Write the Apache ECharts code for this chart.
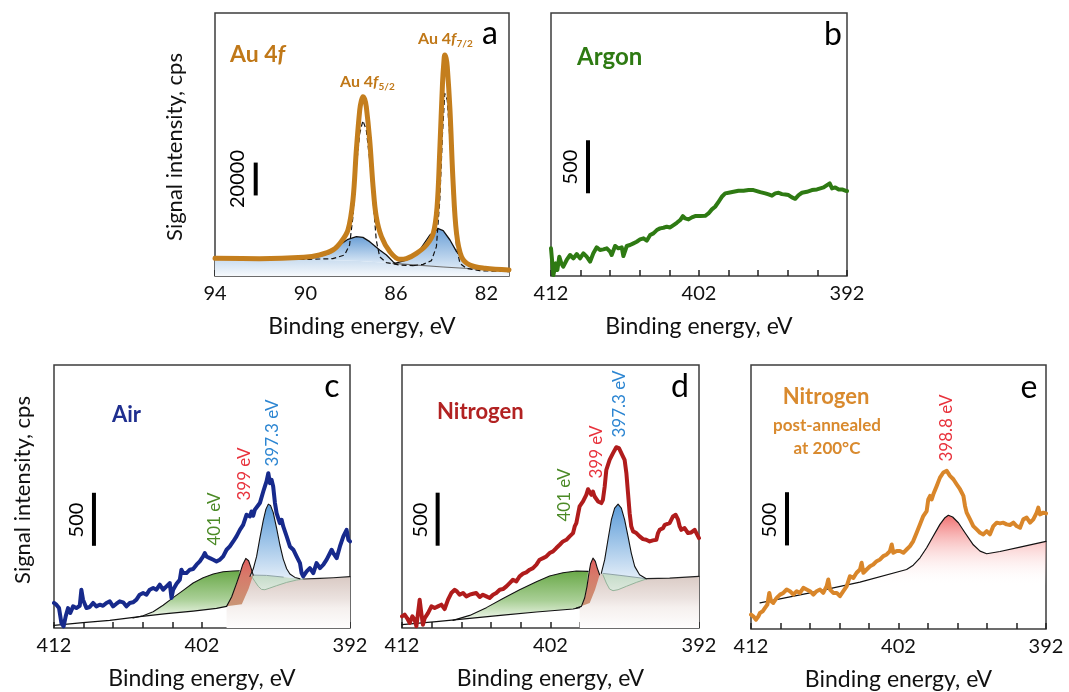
<!DOCTYPE html>
<html>
<head>
<meta charset="utf-8">
<script src="https://cdn.jsdelivr.net/npm/echarts@6/dist/echarts.min.js"></script>
<style>
html,body{margin:0;padding:0;background:#fff}
#chart{width:1069px;height:692px}
</style>
</head>
<body>
<div id="chart"></div>
<script>
const FONT = 'Lato, "Open Sans", "DejaVu Sans", sans-serif';

// ---------- shared N 1s energy axis ----------
const n1sRange = [392, 412];
const n1sTicks = [392, 394, 396, 398, 400, 402, 404, 406, 408, 410, 412];
const n1sTickLabels = [392, 402, 412];
const n1sCpsMax = 2480;
const n1sScaleStep = 500;

// ---------- (a) Au 4f ----------
const au4fRange = [81, 94];
const au4fTicks = [82, 84, 86, 88, 90, 92, 94];
const au4fTickLabels = [82, 86, 90, 94];
const au4fCpsMax = 160000;
const au4fScaleStep = 20000;
const au4fScaleAt = [92.2, 49000];

const au4fEnvelope = [
  [94.00,10750],[92.04,10550],[90.07,11360],[89.38,12780],[88.79,15820],[88.42,20890],[88.12,27990],
  [87.90,46240],[87.75,76660],[87.60,101000],[87.53,106500],[87.46,109100],[87.38,107500],[87.31,103000],
  [87.16,82740],[87.01,54350],[86.87,36100],[86.64,23930],[86.27,14800],[85.83,10140],[85.54,10550],
  [85.09,13790],[84.65,18860],[84.35,25960],[84.18,42180],[84.06,76660],[83.94,117200],[83.88,130000],
  [83.84,134460],[83.78,132500],[83.73,127360],[83.61,101000],[83.47,56380],[83.32,25960],[83.10,11760],
  [82.73,6690],[82.06,4660],[81.00,3650]
];
const au4fFit52 = [
  [92.04,10140],[89.82,10140],[88.79,10550],[88.27,12780],[88.05,18860],[87.90,36100],[87.75,66520],
  [87.60,86800],[87.46,94500],[87.31,88830],[87.16,70570],[87.01,46240],[86.87,21900],[86.72,11760],
  [86.42,8110],[85.83,6690],[85.24,6290]
];
const au4fFit72 = [
  [85.24,6290],[84.80,7100],[84.43,9330],[84.21,17850],[84.06,46240],[83.94,86800],[83.84,111100],
  [83.73,107100],[83.61,82740],[83.47,42180],[83.32,17850],[83.17,7710],[82.88,4660],[82.29,3240],[81.00,2640]
];
const au4fBroad52 = [
  [90.26,10140],[89.52,11360],[88.93,13790],[88.49,18860],[88.12,22310],[87.75,23930],[87.46,23520],
  [87.16,20890],[86.72,15820],[86.42,12780],[86.13,8720],[86.05,7710]
];
const au4fBroad52Base = [[86.05,7600],[87.60,9130],[90.26,10140]];
const au4fBroad72 = [
  [86.05,7710],[85.54,9730],[84.95,15820],[84.50,24940],[84.13,28800],[83.91,27580],[83.61,21900],
  [83.32,14800],[82.88,7710],[82.43,5070],[81.99,4060]
];
const au4fBroad72Base = [[81.99,3930],[83.91,5480],[86.05,7600]];
const au4fBackground = [[94.00,10140],[90.26,10140],[87.60,9130],[86.13,7710],[83.91,5480],[81.70,3650],[81.00,3040]];

// ---------- (b) Argon ----------
const argonScaleAt = [409.5, 780];
const argonCps = [
  [412.00,261],[411.84,9],[411.68,119],[411.57,57],[411.44,182],[411.30,119],[411.17,88],[410.94,151],
  [410.71,198],[410.49,166],[410.26,207],[410.04,166],[409.81,214],[409.59,182],[409.36,135],[409.14,214],
  [408.91,270],[408.69,245],[408.46,251],[408.23,261],[408.01,229],[407.90,198],[407.67,283],[407.45,261],
  [407.22,270],[407.11,188],[406.88,283],[406.66,292],[406.43,308],[406.21,323],[405.98,345],[405.75,355],
  [405.53,333],[405.30,386],[405.08,402],[404.85,433],[404.63,449],[404.40,455],[404.18,465],[403.95,458],
  [403.72,480],[403.50,502],[403.27,528],[403.09,565],[402.94,543],[402.71,534],[402.48,553],[402.26,565],
  [401.92,565],[401.58,568],[401.36,590],[401.13,628],[400.91,653],[400.68,700],[400.46,747],[400.23,779],
  [400.00,785],[399.67,794],[399.33,804],[398.99,804],[398.65,810],[398.32,810],[398.09,801],[397.86,791],
  [397.52,779],[397.30,769],[397.07,757],[396.85,779],[396.62,785],[396.40,772],[396.17,769],[395.95,763],
  [395.72,741],[395.50,728],[395.27,763],[395.04,785],[394.71,794],[394.37,810],[394.03,816],[393.80,826],
  [393.58,835],[393.35,857],[393.17,873],[393.01,826],[392.90,810],[392.79,835],[392.56,816],[392.34,816],
  [392.11,804],[392.00,801]
];

// ---------- (c) Air ----------
const airScaleAt = [409.3, 775];
const airCps = [
  [412.00,236],[411.84,220],[411.66,188],[411.50,47],[411.35,16],[411.21,110],[411.05,188],[410.90,141],
  [410.71,204],[410.49,188],[410.26,210],[410.15,361],[410.04,267],[409.81,188],[409.59,198],[409.36,236],
  [409.14,204],[408.91,220],[408.69,210],[408.46,236],[408.23,251],[408.01,204],[407.78,229],[407.56,251],
  [407.33,242],[407.11,204],[406.88,236],[406.66,242],[406.43,267],[406.21,314],[405.98,330],[405.75,314],
  [405.53,361],[405.30,377],[405.08,361],[404.85,408],[404.63,361],[404.40,393],[404.18,424],[404.06,283],
  [403.95,361],[403.72,418],[403.50,455],[403.39,550],[403.27,518],[403.05,518],[402.82,550],[402.60,556],
  [402.37,597],[402.15,628],[401.92,675],[401.81,707],[401.70,675],[401.47,659],[401.24,644],[401.02,628],
  [400.79,644],[400.57,675],[400.34,738],[400.12,769],[399.89,816],[399.67,864],[399.44,926],[399.22,973],
  [398.99,1068],[398.88,1083],[398.76,1052],[398.65,1099],[398.54,1058],[398.43,1115],[398.31,1130],
  [398.09,1178],[397.86,1287],[397.75,1335],[397.64,1382],[397.52,1460],[397.41,1366],[397.30,1397],
  [397.19,1335],[397.07,1178],[396.96,1083],[396.74,989],[396.62,1021],[396.51,958],[396.28,864],
  [396.06,769],[395.83,738],[395.61,675],[395.50,691],[395.38,612],[395.27,518],[395.16,487],[394.93,534],
  [394.71,565],[394.48,518],[394.26,612],[394.03,565],[393.80,597],[393.58,644],[393.35,707],[393.24,738],
  [393.13,707],[392.90,659],[392.68,769],[392.45,864],[392.23,926],[392.11,832],[392.00,816]
];
const airBackground = [
  [412.00,25],[410.04,50],[408.23,72],[406.21,107],[404.40,135],[402.60,160],[401.02,185],[400.34,204],
  [400.00,220],[399.78,261],[399.55,330],[399.33,408],[399.10,455],[398.81,480],[398.54,499],
  [397.64,496],[396.51,480],[395.16,462],[394.03,468],[393.13,474],[392.00,484]
];
const airGreen = [
  [406.66,94],[405.98,116],[405.30,154],[404.63,214],[403.95,286],[403.27,355],[402.60,424],[401.92,474],
  [401.24,509],[400.57,531],[399.89,537],[399.48,540]
];
const airRed = [
  [400.34,204],[400.00,292],[399.67,418],[399.44,512],[399.26,593],[399.04,656],[398.85,634],[398.72,581],
  [398.58,518],[398.54,499]
];
const airRedBase = [[398.54,499],[398.85,370],[399.31,225]];
const airBlue = [
  [398.76,487],[398.54,556],[398.31,675],[398.09,848],[397.86,1014],[397.68,1121],[397.52,1168],[397.37,1156],
  [397.19,1090],[396.96,942],[396.74,785],[396.51,650],[396.28,559],[396.06,509],[395.72,477],[395.38,465]
];
const airDip = [
  [398.65,487],[398.43,440],[398.20,393],[397.98,364],[397.75,361],[397.41,377],[396.96,399],[396.28,430],
  [395.61,452],[395.16,462]
];

// ---------- (d) Nitrogen ----------
const n2ScaleAt = [409.6, 776];
const n2Cps = [
  [412.00,110],[411.82,126],[411.66,94],[411.48,47],[411.30,110],[411.15,79],[411.03,16],[410.92,141],
  [410.81,267],[410.70,141],[410.59,31],[410.47,94],[410.25,141],[410.02,204],[409.80,188],[409.58,204],
  [409.35,220],[409.13,179],[408.90,267],[408.68,330],[408.45,361],[408.30,345],[408.12,314],[407.89,330],
  [407.67,298],[407.44,314],[407.22,323],[407.00,330],[406.77,292],[406.55,314],[406.32,298],[406.10,283],
  [405.87,314],[405.65,330],[405.42,361],[405.20,367],[404.97,393],[404.75,424],[404.53,455],[404.30,440],
  [404.08,487],[403.85,512],[403.63,524],[403.40,550],[403.18,565],[402.95,597],[402.73,644],[402.50,659],
  [402.28,675],[402.06,707],[401.83,722],[401.61,754],[401.38,785],[401.16,816],[400.93,832],[400.71,864],
  [400.48,895],[400.37,958],[400.26,989],[400.15,1068],[400.04,1146],[399.81,1193],[399.59,1256],
  [399.47,1309],[399.36,1303],[399.25,1256],[399.14,1287],[399.03,1240],[398.80,1193],[398.58,1178],
  [398.47,1209],[398.35,1335],[398.24,1492],[398.02,1586],[397.79,1649],[397.57,1705],[397.39,1696],
  [397.23,1649],[397.01,1586],[396.89,1460],[396.78,1272],[396.67,1083],[396.56,958],[396.44,911],
  [396.22,895],[396.00,864],[395.77,838],[395.55,832],[395.32,816],[395.10,826],[394.87,832],[394.76,895],
  [394.65,926],[394.42,942],[394.31,973],[394.20,958],[393.98,989],[393.75,1052],[393.57,1068],[393.41,1021],
  [393.30,958],[393.19,926],[392.97,942],[392.74,895],[392.52,901],[392.29,926],[392.18,911],[392.00,848]
];
const n2Background = [
  [412.00,31],[409.69,60],[407.44,91],[405.20,122],[402.95,151],[400.48,179],[400.04,192],[399.70,220],
  [399.47,283],[399.25,377],[399.03,455],[398.74,499],[398.47,515],[397.12,493],[395.55,465],[393.98,471],
  [392.00,487]
];
const n2Green = [
  [408.57,72],[407.44,119],[406.32,192],[405.20,279],[404.08,361],[402.95,436],[402.06,490],[401.16,521],
  [400.26,537],[399.47,534]
];
const n2Red = [
  [400.26,188],[399.92,204],[399.70,283],[399.54,393],[399.41,518],[399.30,606],[399.14,659],[398.98,628],
  [398.85,565],[398.69,502]
];
const n2RedBase = [[398.69,502],[399.00,360],[399.36,236]];
const n2Blue = [
  [398.58,515],[398.35,644],[398.13,832],[397.90,1021],[397.68,1130],[397.45,1168],[397.23,1130],
  [397.01,1021],[396.78,864],[396.56,707],[396.33,581],[396.00,502],[395.55,465]
];
const n2Dip = [
  [398.47,502],[398.24,424],[398.02,367],[397.79,352],[397.45,361],[396.89,393],[396.22,430],[395.55,462]
];

// ---------- (e) Nitrogen, post-annealed ----------
const annealedScaleAt = [409.56, 785];
const annealedCps = [
  [412.00,135],[411.84,119],[411.66,88],[411.50,119],[411.39,151],[411.21,166],[411.05,198],[410.89,229],
  [410.76,339],[410.64,261],[410.49,245],[410.26,292],[410.03,323],[409.81,339],[409.58,371],[409.36,355],
  [409.13,323],[408.90,355],[408.68,339],[408.45,386],[408.23,371],[408.00,355],[407.77,323],[407.55,355],
  [407.32,371],[407.10,339],[406.87,402],[406.76,465],[406.64,371],[406.42,339],[406.19,339],[405.97,308],
  [405.74,355],[405.51,402],[405.40,449],[405.29,496],[405.06,480],[404.84,528],[404.61,559],[404.50,622],
  [404.38,528],[404.16,559],[403.93,590],[403.71,606],[403.48,637],[403.25,653],[403.03,685],[402.80,700],
  [402.58,732],[402.46,794],[402.35,716],[402.12,732],[401.90,732],[401.67,716],[401.45,747],[401.22,779],
  [401.00,826],[400.77,904],[400.54,983],[400.32,1061],[400.09,1108],[399.98,1218],[399.86,1250],
  [399.75,1218],[399.64,1265],[399.41,1344],[399.19,1422],[398.96,1470],[398.73,1485],[398.51,1438],
  [398.28,1407],[398.06,1360],[397.83,1313],[397.60,1250],[397.49,1156],[397.38,1093],[397.15,1030],
  [396.93,967],[396.70,936],[396.47,904],[396.25,889],[396.02,920],[395.80,889],[395.57,967],[395.34,999],
  [395.12,992],[394.89,999],[394.67,983],[394.44,977],[394.21,999],[393.99,967],[393.76,951],[393.54,1030],
  [393.31,1046],[393.08,999],[392.86,1030],[392.63,1093],[392.52,1140],[392.41,1077],[392.18,1093],[392.00,1086]
];
const annealedFit = [
  [411.39,245],[408.00,339],[404.61,440],[401.45,559],[401.00,600],[400.54,669],[400.09,763],[399.64,873],
  [399.19,983],[398.85,1046],[398.62,1068],[398.33,1052],[397.94,998],[397.49,904],[396.93,791],[396.47,732],
  [396.02,707],[395.12,728],[393.76,769],[392.00,823]
];

// ---------- helpers ----------
const between = (arr, lo, hi) => arr.filter(p => p[0] >= lo && p[0] <= hi);
const rev = arr => arr.slice().reverse();
const grad = stops => new echarts.graphic.LinearGradient(0, 0, 0, 1,
  stops.map(c => ({ offset: c[0], color: c[1] })));

function area(g, points, fill) {
  return {
    type: 'custom', coordinateSystem: 'cartesian2d', xAxisIndex: g, yAxisIndex: g,
    silent: true, clip: true, animation: false, data: [points[0]],
    renderItem: (params, api) => ({
      type: 'polygon',
      shape: { points: points.map(p => api.coord(p)) },
      style: { fill: fill, stroke: null }
    })
  };
}
function curve(g, data, color, width, extra) {
  const s = {
    type: 'line', xAxisIndex: g, yAxisIndex: g, data: data, showSymbol: false, symbol: 'none',
    silent: true, animation: false, clip: true,
    lineStyle: { color: color, width: width, join: 'round', cap: 'round' }
  };
  if (extra) Object.assign(s.lineStyle, extra);
  return s;
}
function scaleBar(g, at, step) {
  return curve(g, [[at[0], at[1]], [at[0], at[1] + step]], '#000', 4, { cap: 'butt' });
}

// ---------- layout ----------
const grids = [
  { left: 215, top: 13, width: 294, height: 263 },
  { left: 551, top: 13, width: 296, height: 263 },
  { left: 54, top: 365, width: 296, height: 263 },
  { left: 402, top: 365, width: 297, height: 263 },
  { left: 751, top: 365, width: 295, height: 264 }
].map(g => Object.assign(g, { show: true, borderColor: '#3c3c3c', borderWidth: 1.5, containLabel: false, outerBoundsMode: 'none' }));

function xAxisFor(i, range, ticks, labels) {
  return {
    gridIndex: i, type: 'value', inverse: true, min: range[0], max: range[1],
    axisLine: { show: false }, splitLine: { show: false },
    axisTick: { show: true, inside: true, length: 6, lineStyle: { color: '#222', width: 1.5 }, customValues: ticks },
    axisLabel: { show: true, customValues: labels, margin: 8, fontSize: 20, color: '#111', fontFamily: FONT },
    name: 'Binding energy, eV', nameLocation: 'middle', nameGap: 39,
    nameTextStyle: { fontSize: 23, color: '#111', fontFamily: FONT }
  };
}
function yAxisFor(i, max) {
  return {
    gridIndex: i, type: 'value', min: 0, max: max,
    axisLine: { show: false }, axisTick: { show: false }, axisLabel: { show: false }, splitLine: { show: false }
  };
}

// fills
const blueFill = grad([[0, '#6a9fd6'], [1, '#dce9f6']]);
const bandFill = grad([[0, '#c9dcef'], [1, '#f6f9fc']]);
const greenFill = grad([[0, '#6aa949'], [0.6, '#a9cf96'], [1, '#f3f9f0']]);
const redFill = grad([[0, '#df5d5d'], [0.35, '#d77a6a'], [1, '#c99676']]);
const brownFill = grad([[0, '#d8c8c2'], [0.45, '#ebe2df'], [0.62, '#f5f0ee'], [1, '#fefdfd']]);
const dipFill = grad([[0, '#c3dbc7'], [1, '#dce8dd']]);
const blueFill2 = grad([[0, '#5a9bd8'], [1, '#e2edf8']]);
const pinkFill = grad([[0, 'rgba(240,104,104,0.95)'], [0.62, 'rgba(255,255,255,0)']]);

function componentSeries(g, bg, green, red, redBase, blue, dip, stepLeft) {
  const gEnd = green[green.length - 1][0];
  const redFrom = red[0][0], redTo = red[red.length - 1][0];
  const blueFrom = blue[0][0], blueTo = blue[blue.length - 1][0];
  const dipFrom = dip[0][0], dipTo = dip[dip.length - 1][0];
  const brown = between(bg, 392, stepLeft).concat([[392, 0], [stepLeft, 0]]);
  const greenPoly = green
    .concat(rev(between(red, gEnd - 0.05, redFrom)))
    .concat(rev(between(bg, redFrom + 0.01, green[0][0])));
  const redPoly = red.concat(redBase);
  const dipPoly = between(bg, dipTo, dipFrom).concat(rev(dip));
  const bluePoly = blue.concat(rev(between(bg, blueTo, blueFrom)));
  return [
    area(g, brown, brownFill),
    area(g, greenPoly, greenFill),
    area(g, dipPoly, dipFill),
    area(g, redPoly, redFill),
    area(g, bluePoly, blueFill2),
    curve(g, between(bg, stepLeft, 412), '#111', 1.2),
    curve(g, between(bg, blueTo, redTo), '#8ea3a6', 1),
    curve(g, between(bg, 392, blueTo), '#222', 1.2),
    curve(g, dip, '#94b39a', 1),
    curve(g, green, '#111', 1.1),
    curve(g, red, '#111', 1.1),
    curve(g, blue, '#111', 1.1)
  ];
}

const series = [
  // (a)
  area(0, au4fBackground.concat([[81, 0], [94, 0]]), bandFill),
  area(0, au4fBroad52.concat(au4fBroad52Base), blueFill),
  area(0, au4fBroad72.concat(au4fBroad72Base), blueFill),
  curve(0, between(au4fBackground, 81, 86.2), '#6b6b6b', 1.2),
  curve(0, au4fFit52, '#111', 1.2, { type: [5, 3], cap: 'butt' }),
  curve(0, au4fFit72, '#111', 1.2, { type: [5, 3], cap: 'butt' }),
  curve(0, au4fBroad52, '#111', 1.3),
  curve(0, au4fBroad72, '#111', 1.3),
  Object.assign(curve(0, au4fEnvelope, '#c47e1d', 5), { smooth: 0.35 }),
  scaleBar(0, au4fScaleAt, au4fScaleStep),
  // (b)
  curve(1, argonCps, '#2e7a13', 4),
  scaleBar(1, argonScaleAt, n1sScaleStep),
  // (c)
  ...componentSeries(2, airBackground, airGreen, airRed, airRedBase, airBlue, airDip, 400.34),
  curve(2, airCps, '#172a8c', 4),
  scaleBar(2, airScaleAt, n1sScaleStep),
  // (d)
  ...componentSeries(3, n2Background, n2Green, n2Red, n2RedBase, n2Blue, n2Dip, 400.04),
  curve(3, n2Cps, '#b01c1c', 4),
  scaleBar(3, n2ScaleAt, n1sScaleStep),
  // (e)
  area(4, annealedFit.concat([[392, 0], [411.39, 0]]), pinkFill),
  curve(4, annealedFit, '#111', 1.2),
  curve(4, annealedCps, '#d9862a', 4),
  scaleBar(4, annealedScaleAt, n1sScaleStep)
];

// ---------- text ----------
const ROT = Math.PI / 2;
function txt(x, y, text, font, fill, opts) {
  opts = opts || {};
  return {
    type: 'text', x: x, y: y, rotation: opts.rotation || 0, silent: true, z: 100,
    style: Object.assign({ text: text, font: font, fill: fill, align: opts.align || 'left', verticalAlign: 'middle' }, opts.style || {})
  };
}
const auColor = '#c07818';
const bold = (px) => `bold ${px}px ${FONT}`;
const reg = (px) => `${px}px ${FONT}`;
const subRich = (px, sub) => ({
  a: { fontSize: px, fontWeight: 'bold', fontFamily: FONT, fill: auColor },
  i: { fontSize: px, fontWeight: 'bold', fontStyle: 'italic', fontFamily: FONT, fill: auColor },
  s: { fontSize: sub, fontWeight: 'bold', fontFamily: FONT, fill: auColor, padding: [Math.round(px * 0.55), 0, 0, 0] }
});

const graphic = [
  // panel letters
  txt(490, 34, 'a', reg(32), '#000', { align: 'center' }),
  txt(833, 35, 'b', reg(32), '#000', { align: 'center' }),
  txt(332, 387, 'c', reg(32), '#000', { align: 'center' }),
  txt(680, 387, 'd', reg(32), '#000', { align: 'center' }),
  txt(1029, 388, 'e', reg(32), '#000', { align: 'center' }),
  // titles
  txt(230, 55, '{a|Au 4}{i|f}', bold(23), auColor, { style: { rich: subRich(23, 15) } }),
  txt(340, 82, '{a|Au 4}{i|f}{s|5/2}', bold(16), auColor, { style: { rich: subRich(16, 10) } }),
  txt(418, 39, '{a|Au 4}{i|f}{s|7/2}', bold(16), auColor, { style: { rich: subRich(16, 10) } }),
  txt(577, 57, 'Argon', bold(24), '#2e7a13'),
  txt(112, 415, 'Air', bold(22), '#1f2f8f'),
  txt(437, 412, 'Nitrogen', bold(22), '#b22222'),
  txt(826, 397, 'Nitrogen', bold(22), '#d98a2e', { align: 'center' }),
  txt(827, 426, 'post-annealed', bold(17), '#d98a2e', { align: 'center' }),
  txt(827, 449, 'at 200°C', bold(17), '#d98a2e', { align: 'center' }),
  // axis titles
  txt(175, 147, 'Signal intensity, cps', reg(22), '#111', { align: 'center', rotation: ROT }),
  txt(23, 490, 'Signal intensity, cps', reg(22), '#111', { align: 'center', rotation: ROT }),
  // scale-bar values
  txt(238, 179, String(au4fScaleStep), reg(20), '#000', { align: 'center', rotation: ROT }),
  txt(571, 167, String(n1sScaleStep), reg(20), '#000', { align: 'center', rotation: ROT }),
  txt(77, 520, String(n1sScaleStep), reg(20), '#000', { align: 'center', rotation: ROT }),
  txt(421, 520, String(n1sScaleStep), reg(20), '#000', { align: 'center', rotation: ROT }),
  txt(770, 520, String(n1sScaleStep), reg(20), '#000', { align: 'center', rotation: ROT }),
  // peak positions
  txt(215, 519, '401 eV', reg(17), '#4b8a26', { align: 'center', rotation: ROT }),
  txt(245, 474, '399 eV', reg(17), '#e8323c', { align: 'center', rotation: ROT }),
  txt(273, 433, '397.3 eV', reg(17), '#2d86d2', { align: 'center', rotation: ROT }),
  txt(565, 495, '401 eV', reg(17), '#4b8a26', { align: 'center', rotation: ROT }),
  txt(597, 452, '399 eV', reg(17), '#e8323c', { align: 'center', rotation: ROT }),
  txt(620, 404, '397.3 eV', reg(17), '#2d86d2', { align: 'center', rotation: ROT }),
  txt(947, 428, '398.8 eV', reg(17), '#e8323c', { align: 'center', rotation: ROT })
];

const chart = echarts.init(document.getElementById('chart'), null, { renderer: 'canvas' });
chart.setOption({
  animation: false,
  backgroundColor: '#fff',
  grid: grids,
  xAxis: [
    xAxisFor(0, au4fRange, au4fTicks, au4fTickLabels),
    xAxisFor(1, n1sRange, n1sTicks, n1sTickLabels),
    xAxisFor(2, n1sRange, n1sTicks, n1sTickLabels),
    xAxisFor(3, n1sRange, n1sTicks, n1sTickLabels),
    xAxisFor(4, n1sRange, n1sTicks, n1sTickLabels)
  ],
  yAxis: [
    yAxisFor(0, au4fCpsMax), yAxisFor(1, n1sCpsMax), yAxisFor(2, n1sCpsMax),
    yAxisFor(3, n1sCpsMax), yAxisFor(4, n1sCpsMax)
  ],
  series: series,
  graphic: graphic
});
</script>
</body>
</html>
